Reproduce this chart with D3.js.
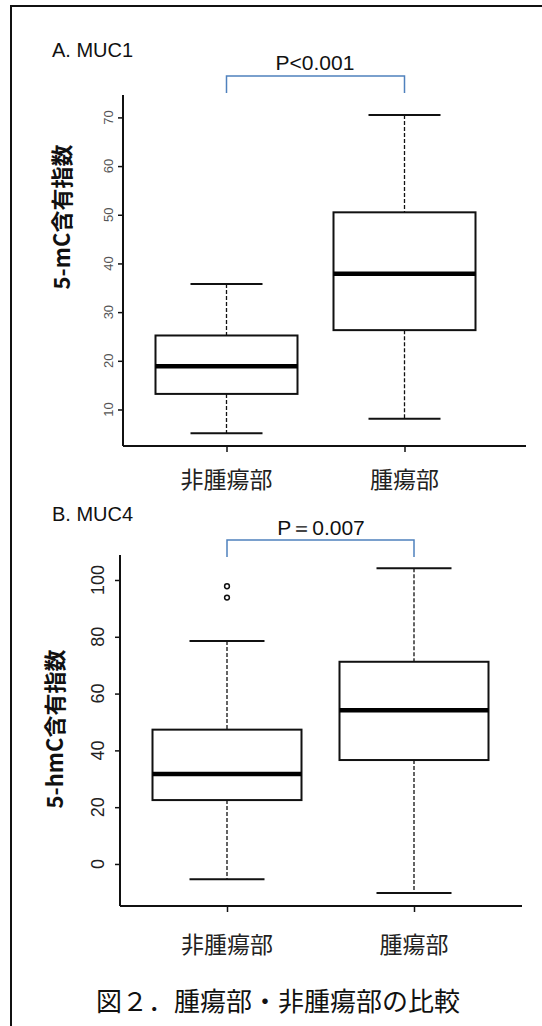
<!DOCTYPE html>
<html>
<head>
    <meta charset="utf-8">
    <title>腫瘍部・非腫瘍部の比較</title>
    <script src="https://d3js.org/d3.v7.min.js"></script>
    <style>
        body { margin: 0; background: #fff; }
        text { font-family: "Liberation Sans", Arial, sans-serif; }
        .jp { font-family: "Noto Sans CJK JP", "Noto Sans CJK SC", sans-serif; }
    </style>
</head>
<body>
    <svg width="542" height="1026"></svg>
    <script>
        // Catégories
        const groups = ["非腫瘍部", "腫瘍部"];

        // A. MUC1 (5-mC)
        const aLow = [5.1, 8.1];
        const aQ1 = [13.2, 26.3];
        const aMed = [18.9, 37.9];
        const aQ3 = [25.2, 50.5];
        const aHigh = [35.8, 70.5];
        const aOut = [[], []];
        const aTicks = [10, 20, 30, 40, 50, 60, 70];

        // B. MUC4 (5-hmC)
        const bLow = [-5.4, -10.2];
        const bQ1 = [22.5, 36.6];
        const bMed = [31.7, 54.1];
        const bQ3 = [47.3, 71.2];
        const bHigh = [78.5, 104.1];
        const bOut = [[93.8, 97.8], []];
        const bTicks = [0, 20, 40, 60, 80, 100];

        const svg = d3.select("svg");

        // cadre extérieur
        svg.append("rect")
            .attr("x", 11).attr("y", 6)
            .attr("width", 560).attr("height", 1040)
            .attr("fill", "none").attr("stroke", "#111").attr("stroke-width", 2);

        function panel(cfg) {
            const g = svg.append("g");
            const y = d3.scaleLinear().domain(cfg.domain).range([cfg.bottom, cfg.top]);
            const x = d3.scalePoint().domain(groups).range(cfg.centers);

            const rows = groups.map((k, i) => ({
                key: k, low: cfg.low[i], q1: cfg.q1[i], med: cfg.med[i],
                q3: cfg.q3[i], high: cfg.high[i], out: cfg.out[i]
            }));

            // axe Y
            const ay = g.append("g")
                .attr("transform", `translate(${cfg.left},0)`)
                .call(d3.axisLeft(y).tickValues(cfg.ticks).tickSize(5).tickSizeOuter(0));
            ay.select(".domain").remove();
            ay.selectAll(".tick line").attr("stroke", "#111").attr("stroke-width", 1.5);
            ay.selectAll(".tick text").remove();
            g.append("line")
                .attr("x1", cfg.left).attr("x2", cfg.left)
                .attr("y1", cfg.top).attr("y2", cfg.bottom)
                .attr("stroke", "#111").attr("stroke-width", 2);
            g.selectAll("text.ytick")
                .data(cfg.ticks)
                .enter()
                .append("text")
                .attr("class", "ytick")
                .attr("transform", d => `translate(${cfg.labelX},${y(d)}) rotate(-90)`)
                .attr("text-anchor", "middle")
                .attr("dy", "0.35em")
                .attr("font-size", cfg.tickFont)
                .attr("fill", cfg.tickColor)
                .text(d => d);

            // axe X
            const ax = g.append("g")
                .attr("transform", `translate(0,${cfg.bottom})`)
                .call(d3.axisBottom(x).tickSize(6).tickSizeOuter(0));
            ax.select(".domain").remove();
            ax.selectAll(".tick line").attr("stroke", "#111").attr("stroke-width", 1.5);
            ax.selectAll(".tick text").remove();
            g.append("line")
                .attr("x1", cfg.left).attr("x2", cfg.right)
                .attr("y1", cfg.bottom).attr("y2", cfg.bottom)
                .attr("stroke", "#111").attr("stroke-width", 2);
            g.selectAll("text.xcat")
                .data(groups)
                .enter()
                .append("text")
                .attr("class", "xcat jp")
                .attr("x", d => x(d))
                .attr("y", cfg.catY)
                .attr("text-anchor", "middle")
                .attr("font-size", 23)
                .attr("fill", "#222")
                .text(d => d);

            // moustaches
            const hw = cfg.boxW / 2, cw = cfg.capW / 2;
            const box = g.selectAll("g.box").data(rows).enter().append("g").attr("class", "box");
            box.append("line")
                .attr("x1", d => x(d.key)).attr("x2", d => x(d.key))
                .attr("y1", d => y(d.high)).attr("y2", d => y(d.q3))
                .attr("stroke", "#111").attr("stroke-width", 1.3).attr("stroke-dasharray", "4,2");
            box.append("line")
                .attr("x1", d => x(d.key)).attr("x2", d => x(d.key))
                .attr("y1", d => y(d.q1)).attr("y2", d => y(d.low))
                .attr("stroke", "#111").attr("stroke-width", 1.3).attr("stroke-dasharray", "4,2");
            box.append("line")
                .attr("x1", d => x(d.key) - cw).attr("x2", d => x(d.key) + cw)
                .attr("y1", d => y(d.high)).attr("y2", d => y(d.high))
                .attr("stroke", "#111").attr("stroke-width", 2);
            box.append("line")
                .attr("x1", d => x(d.key) - cw).attr("x2", d => x(d.key) + cw)
                .attr("y1", d => y(d.low)).attr("y2", d => y(d.low))
                .attr("stroke", "#111").attr("stroke-width", 2);
            box.append("rect")
                .attr("x", d => x(d.key) - hw)
                .attr("y", d => y(d.q3))
                .attr("width", cfg.boxW)
                .attr("height", d => y(d.q1) - y(d.q3))
                .attr("fill", "#fff").attr("stroke", "#111").attr("stroke-width", 2);
            box.append("line")
                .attr("x1", d => x(d.key) - hw).attr("x2", d => x(d.key) + hw)
                .attr("y1", d => y(d.med)).attr("y2", d => y(d.med))
                .attr("stroke", "#000").attr("stroke-width", 4.5);
            box.selectAll("circle")
                .data(d => d.out.map(v => ({ key: d.key, v })))
                .enter()
                .append("circle")
                .attr("cx", d => x(d.key)).attr("cy", d => y(d.v))
                .attr("r", 2.4)
                .attr("fill", "none").attr("stroke", "#111").attr("stroke-width", 1.5);

            // crochet de significativité
            g.append("path")
                .attr("d", `M${x(groups[0])},${cfg.brBottom} V${cfg.brTop} H${x(groups[1])} V${cfg.brBottom}`)
                .attr("fill", "none").attr("stroke", "#4f81bd").attr("stroke-width", 1.5);
            g.append("text")
                .attr("x", cfg.pX).attr("y", cfg.pY)
                .attr("text-anchor", "middle")
                .attr("font-size", 21)
                .attr("fill", "#111")
                .text(cfg.pText);

            // titres
            g.append("text")
                .attr("x", 52).attr("y", cfg.titleY)
                .attr("font-size", 20).attr("fill", "#111")
                .text(cfg.title);
            g.append("text")
                .attr("class", "jp")
                .attr("transform", `translate(${cfg.ylabX},${cfg.ylabY}) rotate(-90)`)
                .attr("text-anchor", "middle")
                .attr("dy", "0.35em")
                .attr("font-size", 22)
                .attr("font-weight", "bold")
                .attr("fill", "#111")
                .text(cfg.ylab);
        }

        panel({
            title: "A. MUC1", titleY: 57,
            ylab: "5-mC含有指数", ylabX: 62, ylabY: 217,
            low: aLow, q1: aQ1, med: aMed, q3: aQ3, high: aHigh, out: aOut,
            ticks: aTicks, domain: [2.5, 74.6],
            top: 95, bottom: 446, left: 123, right: 526,
            centers: [226.5, 404.5], boxW: 142, capW: 72,
            labelX: 108, tickFont: 13, tickColor: "#555",
            catY: 488,
            brTop: 76, brBottom: 93, pText: "P<0.001", pX: 315, pY: 70
        });

        panel({
            title: "B. MUC4", titleY: 521,
            ylab: "5-hmC含有指数", ylabX: 55, ylabY: 729,
            low: bLow, q1: bQ1, med: bMed, q3: bQ3, high: bHigh, out: bOut,
            ticks: bTicks, domain: [-14.8, 108.8],
            top: 555, bottom: 906, left: 120, right: 522,
            centers: [227, 414], boxW: 149, capW: 75,
            labelX: 98, tickFont: 18, tickColor: "#222",
            catY: 953,
            brTop: 540, brBottom: 557, pText: "P＝0.007", pX: 321, pY: 535
        });

        // légende de la figure
        svg.append("text")
            .attr("class", "jp")
            .attr("x", 278).attr("y", 1011)
            .attr("text-anchor", "middle")
            .attr("font-size", 26)
            .attr("fill", "#111")
            .text("図２．腫瘍部・非腫瘍部の比較");
    </script>
</body>
</html>
